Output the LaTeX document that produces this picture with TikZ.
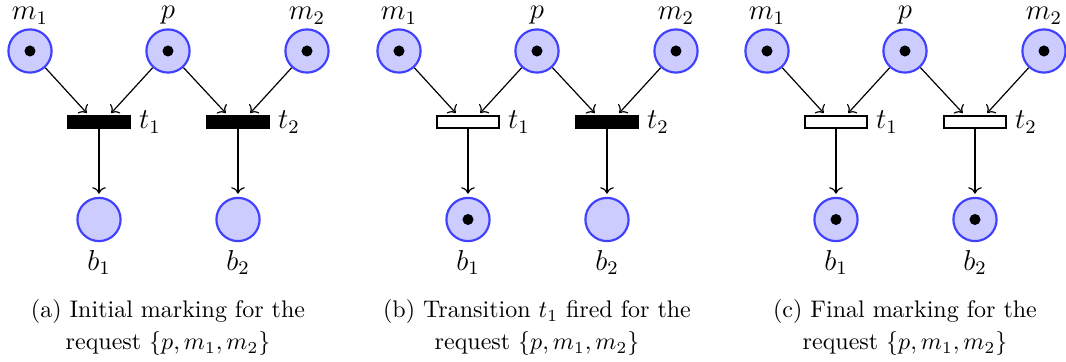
\documentclass[tikz,border=0pt]{standalone}
\usetikzlibrary{arrows.meta}
\tikzset{
  place/.style={circle,draw=blue!75,fill=blue!20,line width=0.9pt,minimum size=18pt,inner sep=0pt},
  marked/.style={path picture={\fill[black] (path picture bounding box.center) circle (2.3pt);}},
  unmarked/.style={},
  trans/.style={rectangle,draw=black,line width=0.8pt,minimum width=25.6pt,minimum height=4.7pt,inner sep=0pt},
  enabled/.style={trans,fill=black},
  fired/.style={trans,fill=white},
  flow/.style={->,line width=0.5pt,shorten >=1.3pt},
  captext/.style={anchor=base,inner sep=0pt},
  every label/.style={font=\large,inner sep=0.5pt},
  toplabel/.style={label={[label distance=1.0pt]above:{#1}}},
  sidelabel/.style={label={[label distance=2.83pt]right:{#1}}},
  bottomlabel/.style={label={[label distance=2.83pt]below:{#1}}},
}
\newcommand\petripanel[7]{%
  \begin{scope}[shift={(#1,0)}]
    \node[place,marked,toplabel={$m_1$}] (m1#2) at (30,51) {};
    \node[place,marked,toplabel={$p$}] (p#2) at (168,51) {};
    \node[place,marked,toplabel={$m_2$}] (m2#2) at (307,51) {};
    \node[#3,sidelabel={$t_1$}] (t1#2) at (99,122) {};
    \node[#4,sidelabel={$t_2$}] (t2#2) at (238,122) {};
    \node[place,#5,bottomlabel={$b_1$}] (b1#2) at (99,219.5) {};
    \node[place,#6,bottomlabel={$b_2$}] (b2#2) at (238,219.5) {};
    \draw[flow] (m1#2) -- ([xshift=-4.2pt]t1#2.north);
    \draw[flow] (p#2) -- ([xshift=4.2pt]t1#2.north);
    \draw[flow] (p#2) -- ([xshift=-4.2pt]t2#2.north);
    \draw[flow] (m2#2) -- ([xshift=4.2pt]t2#2.north);
    \draw[flow] (t1#2) -- (b1#2);
    \draw[flow] (t2#2) -- (b2#2);
    \node[captext] (capa#2) at (168,318) {#7};
    \node[captext] (capb#2) at (168,350) {request $\{p, m_1, m_2\}$};
  \end{scope}}
\begin{document}
\begin{tikzpicture}[x=0.4167pt,y=-0.4167pt]
  \useasboundingbox (0,0) rectangle (1066,362);
  \petripanel{0}{a}{enabled}{enabled}{unmarked}{unmarked}{(a) Initial marking for the}
  \petripanel{369}{b}{fired}{enabled}{marked}{unmarked}{(b) Transition $t_1$ fired for the}
  \petripanel{737}{c}{fired}{fired}{marked}{marked}{(c) Final marking for the}
\end{tikzpicture}
\end{document}
